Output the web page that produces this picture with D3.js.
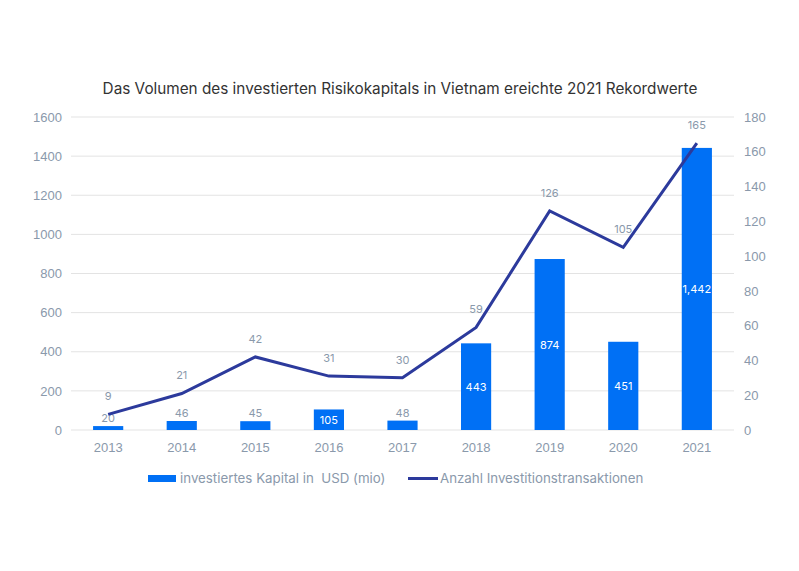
<!DOCTYPE html>
<html>
<head>
    <meta charset="utf-8">
    <title>Risikokapital Vietnam</title>
    <style>
        html, body {
            margin: 0;
            padding: 0;
            background: white;
            font-family: 'Inter', 'Roboto', sans-serif;
        }
        .tick text { fill: #8a99ab; font-size: 13px; }
        .legend-text { white-space: pre; }
    </style>
</head>
<body>
    <div id="chart"></div>
    <script src="https://cdnjs.cloudflare.com/ajax/libs/d3/7.6.1/d3.min.js"></script>
    <script>
        const years = ["2013", "2014", "2015", "2016", "2017", "2018", "2019", "2020", "2021"];
        const capital = [20, 46, 45, 105, 48, 443, 874, 451, 1442];
        const deals = [9, 21, 42, 31, 30, 59, 126, 105, 165];
        const leftTicks = [0, 200, 400, 600, 800, 1000, 1200, 1400, 1600];
        const rightTicks = [0, 20, 40, 60, 80, 100, 120, 140, 160, 180];
        const title = "Das Volumen des investierten Risikokapitals in Vietnam ereichte 2021 Rekordwerte";
        const legendLabels = ["investiertes Kapital in  USD (mio)", "Anzahl Investitionstransaktionen"];

        const width = 799, height = 571;
        const margin = { top: 117, right: 65, bottom: 141, left: 71 };
        const barColor = "#0070f5", lineColor = "#2c3a9c", grey = "#8a99ab";

        const svg = d3.select("#chart").append("svg")
            .attr("width", width)
            .attr("height", height);

        const x = d3.scaleBand()
            .domain(years)
            .range([margin.left, width - margin.right])
            .paddingInner(0.59)
            .paddingOuter(0.3);

        const yL = d3.scaleLinear().domain([0, 1600]).range([height - margin.bottom, margin.top]);
        const yR = d3.scaleLinear().domain([0, 180]).range([height - margin.bottom, margin.top]);

        svg.append("text")
            .attr("x", 400)
            .attr("y", 94)
            .attr("text-anchor", "middle")
            .attr("fill", "#333")
            .style("font-size", "15.3px")
            .text(title);

        // gridlines
        svg.append("g")
            .selectAll("line")
            .data(leftTicks)
            .enter()
            .append("line")
            .attr("x1", margin.left)
            .attr("x2", width - margin.right)
            .attr("y1", d => yL(d))
            .attr("y2", d => yL(d))
            .attr("stroke", "#e3e3e3")
            .attr("stroke-width", 1);

        const leftAxis = svg.append("g")
            .attr("transform", `translate(${margin.left - 9},0)`)
            .call(d3.axisLeft(yL).tickValues(leftTicks).tickFormat(d3.format("d")).tickSize(0).tickPadding(0));
        leftAxis.select(".domain").remove();

        const rightAxis = svg.append("g")
            .attr("transform", `translate(${width - margin.right + 10},0)`)
            .call(d3.axisRight(yR).tickValues(rightTicks).tickSize(0).tickPadding(0));
        rightAxis.select(".domain").remove();

        const bottomAxis = svg.append("g")
            .attr("transform", `translate(0,${height - margin.bottom + 7})`)
            .call(d3.axisBottom(x).tickSize(0).tickPadding(6));
        bottomAxis.select(".domain").remove();

        // bars
        svg.append("g")
            .selectAll("rect")
            .data(capital)
            .enter()
            .append("rect")
            .attr("x", (d, i) => x(years[i]))
            .attr("width", x.bandwidth())
            .attr("y", d => yL(d))
            .attr("height", d => yL(0) - yL(d))
            .attr("fill", barColor);

        // bar labels
        svg.append("g")
            .selectAll("text")
            .data(capital)
            .enter()
            .append("text")
            .attr("x", (d, i) => x(years[i]) + x.bandwidth() / 2)
            .attr("y", d => d >= 100 ? (yL(d) + yL(0)) / 2 + 4 : yL(d) - 4)
            .attr("text-anchor", "middle")
            .attr("fill", d => d >= 100 ? "white" : grey)
            .style("font-size", "11px")
            .text(d => d3.format(",")(d));

        // line
        const line = d3.line()
            .x((d, i) => x(years[i]) + x.bandwidth() / 2)
            .y(d => yR(d));

        svg.append("path")
            .datum(deals)
            .attr("d", line)
            .attr("fill", "none")
            .attr("stroke", lineColor)
            .attr("stroke-width", 3)
            .attr("stroke-linejoin", "miter");

        svg.append("g")
            .selectAll("text")
            .data(deals)
            .enter()
            .append("text")
            .attr("x", (d, i) => x(years[i]) + x.bandwidth() / 2)
            .attr("y", d => yR(d) - 14)
            .attr("text-anchor", "middle")
            .attr("fill", grey)
            .style("font-size", "11px")
            .text(d => d);

        // legend
        const legend = svg.append("g");
        legend.append("rect")
            .attr("x", 148).attr("y", 475)
            .attr("width", 28).attr("height", 7)
            .attr("fill", barColor);
        legend.append("text")
            .attr("class", "legend-text")
            .attr("x", 180).attr("y", 483)
            .attr("fill", grey)
            .style("font-size", "13.3px")
            .text(legendLabels[0]);
        legend.append("line")
            .attr("x1", 408).attr("x2", 438)
            .attr("y1", 478.5).attr("y2", 478.5)
            .attr("stroke", lineColor)
            .attr("stroke-width", 3);
        legend.append("text")
            .attr("class", "legend-text")
            .attr("x", 440).attr("y", 483)
            .attr("fill", grey)
            .style("font-size", "13.3px")
            .text(legendLabels[1]);
    </script>
</body>
</html>
